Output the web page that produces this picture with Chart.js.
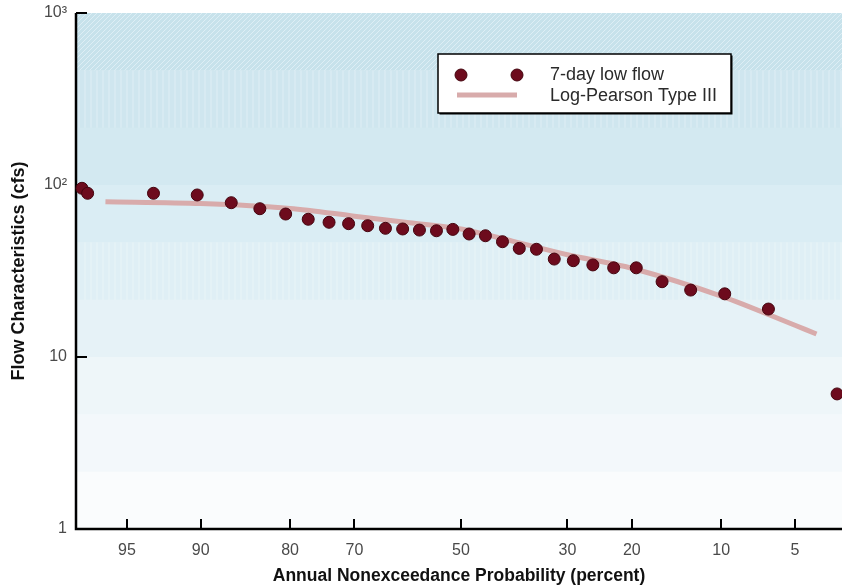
<!DOCTYPE html>
<html>
<head>
<meta charset="utf-8">
<title>7-day low flow frequency</title>
<script src="https://cdn.jsdelivr.net/npm/chart.js@4.4.1/dist/chart.umd.min.js"></script>
<style>
  html, body { margin: 0; padding: 0; background: #ffffff; }
  #chart { display: block; }
</style>
</head>
<body>
<canvas id="chart" width="842" height="588"></canvas>
<script>
// annual nonexceedance probability (percent) and flow (cfs) of the plotted 7-day low flows
const lowFlowProb = [96.9, 96.7, 93.5, 90.3, 87.1, 83.9, 80.6, 77.4, 74.2, 71.0, 67.7, 64.5, 61.3, 58.1, 54.8,
  51.6, 48.4, 45.2, 41.9, 38.7, 35.5, 32.3, 29.0, 25.8, 22.6, 19.4, 16.1, 12.9, 9.7, 6.5, 3.2];
const lowFlowCfs = [95.7, 89.5, 89.5, 87.5, 78.9, 72.8, 67.8, 63.2, 60.7, 59.6, 58.0, 56.0, 55.5, 54.7, 54.2,
  55.2, 51.9, 50.7, 46.8, 42.8, 42.3, 37.1, 36.3, 34.3, 33.0, 33.0, 27.4, 24.5, 23.3, 19.0, 6.1];

// fitted Log-Pearson Type III curve
const lp3Prob = [96, 90, 80, 70, 60, 50, 40, 30, 20, 10, 5, 4];
const lp3Cfs = [80, 78, 73.1, 65.9, 60.3, 55.5, 47.2, 39.3, 32.8, 22.6, 15.3, 13.6];

const probTicks = [95, 90, 80, 70, 50, 30, 20, 10, 5];
const flowTicks = [1, 10, 100, 1000];
const flowTickLabels = ['1', '10', '10\u00B2', '10\u00B3'];

const seriesNames = ['7-day low flow', 'Log-Pearson Type III'];

const POINT_COLOR = '#6d0b1d';
const POINT_BORDER = '#45050f';
const CURVE_COLOR = '#d8abab';
const FONT = '"Liberation Sans", Arial, sans-serif';

// inverse standard normal (Acklam), used by the probability axis
function probit(p) {
  const a = [-3.969683028665376e+01, 2.209460984245205e+02, -2.759285104469687e+02, 1.383577518672690e+02, -3.066479806614716e+01, 2.506628277459239e+00];
  const b = [-5.447609879822406e+01, 1.615858368580409e+02, -1.556989798598866e+02, 6.680131188771972e+01, -1.328068155288572e+01];
  const c = [-7.784894002430293e-03, -3.223964580411365e-01, -2.400758277161838e+00, -2.549732539343734e+00, 4.374664141464968e+00, 2.938163982698783e+00];
  const d = [7.784695709041462e-03, 3.224671290700398e-01, 2.445134137142996e+00, 3.754408661907416e+00];
  const lo = 0.02425;
  let q;
  if (p < lo) {
    q = Math.sqrt(-2 * Math.log(p));
    return (((((c[0] * q + c[1]) * q + c[2]) * q + c[3]) * q + c[4]) * q + c[5]) / ((((d[0] * q + d[1]) * q + d[2]) * q + d[3]) * q + 1);
  }
  if (p > 1 - lo) {
    q = Math.sqrt(-2 * Math.log(1 - p));
    return -(((((c[0] * q + c[1]) * q + c[2]) * q + c[3]) * q + c[4]) * q + c[5]) / ((((d[0] * q + d[1]) * q + d[2]) * q + d[3]) * q + 1);
  }
  q = p - 0.5;
  const r = q * q;
  return (((((a[0] * r + a[1]) * r + a[2]) * r + a[3]) * r + a[4]) * r + a[5]) * q / (((((b[0] * r + b[1]) * r + b[2]) * r + b[3]) * r + b[4]) * r + 1);
}

function normCdf(z) {
  const t = 1 / (1 + 0.2316419 * Math.abs(z));
  const poly = t * (0.319381530 + t * (-0.356563782 + t * (1.781477937 + t * (-1.821255978 + t * 1.330274429))));
  const tail = Math.exp(-z * z / 2) / Math.sqrt(2 * Math.PI) * poly;
  return z >= 0 ? 1 - tail : tail;
}

// normal probability paper axis (values in percent)
class ProbitScale extends Chart.Scale {
  static id = 'probit';
  static defaults = {};

  determineDataLimits() {
    this.min = this.options.min;
    this.max = this.options.max;
  }

  buildTicks() {
    return probTicks.map((value) => ({ value }));
  }

  getLabelForValue(value) {
    return String(value);
  }

  configure() {
    super.configure();
    this._zStart = probit(this.min / 100);
    this._zEnd = probit(this.max / 100);
  }

  getPixelForValue(value) {
    const z = probit(value / 100);
    return this.getPixelForDecimal((z - this._zStart) / (this._zEnd - this._zStart));
  }

  getValueForPixel(pixel) {
    const z = this._zStart + this.getDecimalForPixel(pixel) * (this._zEnd - this._zStart);
    return 100 * normCdf(z);
  }
}
Chart.register(ProbitScale);

const bandColors = ['#c9e3ec', '#cfe6ef', '#d3e9f1', '#daedf4', '#dfeff5', '#e6f2f7', '#eef6f9', '#f3f8fb', '#fafcfd'];

function makeHatch(ctx) {
  const tile = document.createElement('canvas');
  tile.width = 5;
  tile.height = 5;
  const t = tile.getContext('2d');
  t.fillStyle = '#c7e2eb';
  t.fillRect(0, 0, 5, 5);
  t.strokeStyle = 'rgba(232,244,249,0.7)';
  t.lineWidth = 1;
  t.beginPath();
  t.moveTo(0, 5);
  t.lineTo(5, 0);
  t.stroke();
  return ctx.createPattern(tile, 'repeat');
}

function makeStripes(ctx, base) {
  const tile = document.createElement('canvas');
  tile.width = 6;
  tile.height = 4;
  const t = tile.getContext('2d');
  t.fillStyle = base;
  t.fillRect(0, 0, 6, 4);
  t.fillStyle = 'rgba(255,255,255,0.18)';
  t.fillRect(0, 0, 2, 4);
  return ctx.createPattern(tile, 'repeat');
}

const backgroundBands = {
  id: 'backgroundBands',
  beforeDatasetsDraw(chart) {
    const { ctx, chartArea, scales } = chart;
    const y = scales.y;
    ctx.save();
    for (let k = 0; k < 9; k++) {
      const top = y.getPixelForValue(Math.pow(10, 3 - k / 3));
      const bottom = y.getPixelForValue(Math.pow(10, 3 - (k + 1) / 3));
      let fill = bandColors[k];
      if (k === 0) fill = makeHatch(ctx);
      if (k === 1 || k === 4) fill = makeStripes(ctx, bandColors[k]);
      ctx.fillStyle = fill;
      ctx.fillRect(chartArea.left, top, chartArea.right - chartArea.left, bottom - top + 0.5);
    }

    // axes with inward ticks
    ctx.strokeStyle = '#000000';
    ctx.lineWidth = 2.5;
    ctx.beginPath();
    ctx.moveTo(chartArea.left, chartArea.top);
    ctx.lineTo(chartArea.left, chartArea.bottom);
    ctx.lineTo(chartArea.right, chartArea.bottom);
    ctx.stroke();

    ctx.lineWidth = 2;
    ctx.beginPath();
    flowTicks.slice(1).forEach((v) => {
      const py = Math.round(y.getPixelForValue(v));
      ctx.moveTo(chartArea.left, py);
      ctx.lineTo(chartArea.left + 11, py);
    });
    probTicks.forEach((v) => {
      const px = Math.round(scales.x.getPixelForValue(v));
      ctx.moveTo(px, chartArea.bottom);
      ctx.lineTo(px, chartArea.bottom - 10);
    });
    ctx.stroke();
    ctx.restore();
  },
};

const boxLegend = {
  id: 'boxLegend',
  afterDraw(chart) {
    const { ctx } = chart;
    const x = 438, y = 54, w = 293, h = 59;
    ctx.save();
    ctx.fillStyle = '#000000';
    ctx.fillRect(x + 1.5, y + 1.5, w, h);
    ctx.fillStyle = '#ffffff';
    ctx.fillRect(x, y, w, h);
    ctx.strokeStyle = '#000000';
    ctx.lineWidth = 1.5;
    ctx.strokeRect(x, y, w, h);

    [461, 517].forEach((cx) => {
      ctx.beginPath();
      ctx.arc(cx, 75, 6, 0, Math.PI * 2);
      ctx.fillStyle = POINT_COLOR;
      ctx.fill();
      ctx.lineWidth = 1;
      ctx.strokeStyle = POINT_BORDER;
      ctx.stroke();
    });

    ctx.strokeStyle = CURVE_COLOR;
    ctx.lineWidth = 5;
    ctx.beginPath();
    ctx.moveTo(457, 95);
    ctx.lineTo(517, 95);
    ctx.stroke();

    ctx.fillStyle = '#2a2a2a';
    ctx.font = '18px ' + FONT;
    ctx.textBaseline = 'middle';
    ctx.fillText(seriesNames[0], 550, 75);
    ctx.fillText(seriesNames[1], 550, 96);
    ctx.restore();
  },
};

new Chart(document.getElementById('chart'), {
  type: 'scatter',
  data: {
    datasets: [
      {
        label: seriesNames[0],
        data: lowFlowProb.map((p, i) => ({ x: p, y: lowFlowCfs[i] })),
        pointRadius: 6,
        pointBackgroundColor: POINT_COLOR,
        pointBorderColor: POINT_BORDER,
        pointBorderWidth: 1,
        clip: false,
      },
      {
        label: seriesNames[1],
        data: lp3Prob.map((p, i) => ({ x: p, y: lp3Cfs[i] })),
        showLine: true,
        pointRadius: 0,
        borderColor: CURVE_COLOR,
        borderWidth: 5,
        tension: 0.3,
        clip: false,
      },
    ],
  },
  options: {
    responsive: false,
    devicePixelRatio: 1,
    animation: false,
    layout: { autoPadding: false, padding: { top: 13, right: 0, bottom: 0, left: 0 } },
    plugins: {
      legend: { display: false },
      tooltip: { enabled: false },
    },
    scales: {
      x: {
        type: 'probit',
        position: 'bottom',
        min: 97.1,
        max: 3.03,
        grid: { display: false, drawTicks: false },
        border: { display: false },
        ticks: {
          autoSkip: false,
          maxRotation: 0,
          padding: 12,
          color: '#4a4a4a',
          font: { family: FONT, size: 16 },
        },
        title: {
          display: true,
          text: 'Annual Nonexceedance Probability (percent)',
          color: '#111111',
          padding: { top: 0, bottom: 1 },
          font: { family: FONT, size: 17.5, weight: 'bold' },
        },
        afterFit(scale) {
          scale.height = 59;
          scale.paddingLeft = 0;
          scale.paddingRight = 0;
        },
      },
      y: {
        type: 'logarithmic',
        min: 1,
        max: 1000,
        grid: { display: false, drawTicks: false },
        border: { display: false },
        afterBuildTicks(scale) {
          scale.ticks = flowTicks.map((value) => ({ value }));
        },
        ticks: {
          autoSkip: false,
          padding: 9,
          color: '#4a4a4a',
          font: { family: FONT, size: 16 },
          callback(value) {
            const i = flowTicks.indexOf(value);
            return i >= 0 ? flowTickLabels[i] : '';
          },
        },
        title: {
          display: true,
          text: 'Flow Characteristics (cfs)',
          color: '#111111',
          padding: { top: 8, bottom: 0 },
          font: { family: FONT, size: 18, weight: 'bold' },
        },
        afterFit(scale) {
          scale.width = 76;
          scale.paddingTop = 0;
          scale.paddingBottom = 0;
        },
      },
    },
  },
  plugins: [backgroundBands, boxLegend],
});
</script>
</body>
</html>
